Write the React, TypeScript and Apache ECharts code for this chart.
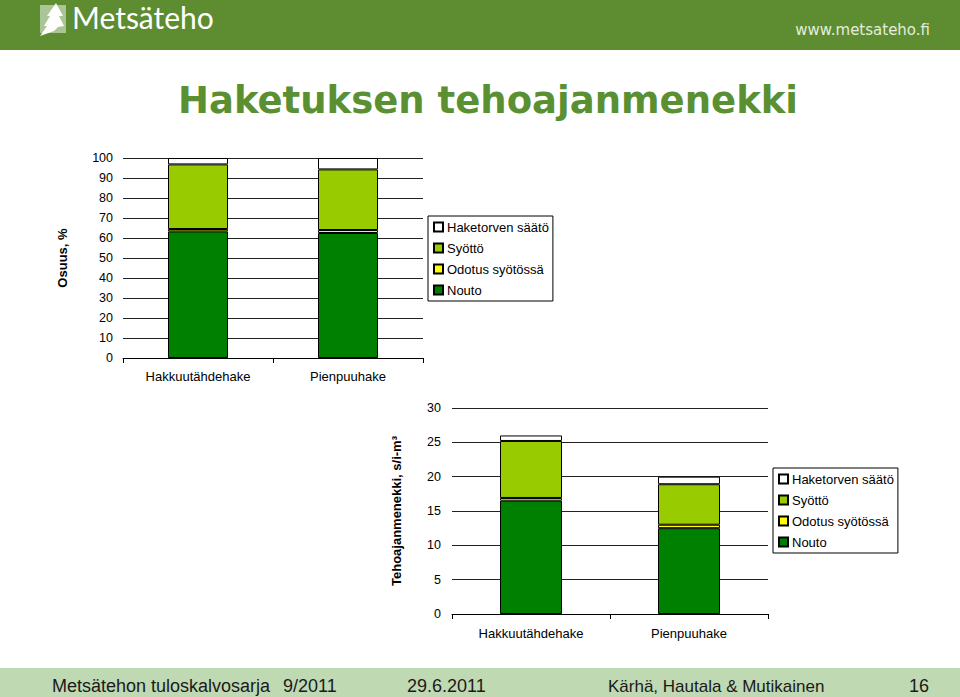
import React, { useEffect, useRef } from "react";
import * as echarts from "echarts";

const categories = ["Hakkuutähdehake", "Pienpuuhake"];
const seriesNames = ["Nouto", "Odotus syötössä", "Syöttö", "Haketorven säätö"];
const seriesColors = ["#008000", "#ffff00", "#99cc00", "#ffffff"];

// Osuus, %
const shareNouto = [63.3, 62.5];
const shareOdotus = [1.2, 1.5];
const shareSyotto = [32.3, 30.3];
const shareHaketorvi = [3.2, 5.7];

// Tehoajanmenekki, s/i-m3
const timeNouto = [16.5, 12.5];
const timeOdotus = [0.4, 0.5];
const timeSyotto = [8.3, 5.9];
const timeHaketorvi = [0.8, 1.1];

const topTicks = { min: 0, max: 100, interval: 10 };
const bottomTicks = { min: 0, max: 30, interval: 5 };

const legendOrder = ["Haketorven säätö", "Syöttö", "Odotus syötössä", "Nouto"];

const FONT = "Liberation Sans";

export default function App() {
  const ref = useRef<HTMLDivElement>(null);

  useEffect(() => {
    document.body.style.margin = "0";
    if (!ref.current) return;
    const chart = echarts.init(ref.current, null, { renderer: "svg" });

    const topData = [shareNouto, shareOdotus, shareSyotto, shareHaketorvi];
    const bottomData = [timeNouto, timeOdotus, timeSyotto, timeHaketorvi];

    const makeSeries = (data: number[][], idx: number, stack: string, bw: number) =>
      data.map((d, i) => ({
        type: "bar",
        name: seriesNames[i],
        stack,
        xAxisIndex: idx,
        yAxisIndex: idx,
        barWidth: bw,
        data: d,
        itemStyle: { color: seriesColors[i], borderColor: "#000", borderWidth: 1 },
        emphasis: { disabled: true },
      }));

    const xAxisBase = (gridIndex: number, margin: number) => ({
      type: "category",
      gridIndex,
      data: categories,
      axisLine: { show: true, lineStyle: { color: "#000", width: 1 } },
      axisTick: { show: true, length: 5, lineStyle: { color: "#000" } },
      axisLabel: { fontSize: 13, color: "#000", fontFamily: FONT, margin },
    });

    const yAxisBase = (gridIndex: number, ticks: any, name: string, nameGap: number, margin: number) => ({
      type: "value",
      gridIndex,
      min: ticks.min,
      max: ticks.max,
      interval: ticks.interval,
      name,
      nameLocation: "middle",
      nameGap,
      nameRotate: 90,
      nameTextStyle: { fontSize: 13, fontWeight: "bold", color: "#000", fontFamily: FONT },
      axisLine: { show: false },
      axisTick: { show: false },
      axisLabel: { fontSize: 12.5, color: "#000", fontFamily: FONT, margin },
      splitLine: { show: true, lineStyle: { color: "#222", width: 1.2 } },
    });

    const legendBase = (left: number, top: number) => ({
      data: legendOrder,
      orient: "vertical",
      left,
      top,
      icon: "rect",
      itemWidth: 9,
      itemHeight: 9,
      itemGap: 7,
      padding: [4, 4, 4, 5],
      borderColor: "#000",
      borderWidth: 1,
      backgroundColor: "#fff",
      selectedMode: false,
      textStyle: { fontSize: 13, color: "#000", fontFamily: FONT, lineHeight: 14, padding: [0, 0, 0, -1] },
    });

    const treePoints = [
      [56, 3], [63, 16], [59, 16], [64, 26], [58, 27], [54, 31], [40, 36],
      [47, 26], [44, 26], [50, 16], [47, 16],
    ];

    chart.setOption({
      animation: false,
      backgroundColor: "#ffffff",
      grid: [
        { left: 123, top: 158, width: 300, height: 200 },
        { left: 452, top: 408, width: 316, height: 206 },
      ],
      xAxis: [xAxisBase(0, 12), xAxisBase(1, 13)],
      yAxis: [
        yAxisBase(0, topTicks, "Osuus, %", 54, 10),
        yAxisBase(1, bottomTicks, "Tehoajanmenekki, s/i-m³", 49, 11),
      ],
      legend: [legendBase(428, 216), legendBase(773, 468)],
      series: [
        ...makeSeries(topData, 0, "top", 60),
        ...makeSeries(bottomData, 1, "bottom", 62),
      ],
      graphic: [
        { type: "rect", left: 0, top: 0, shape: { width: 960, height: 50 }, style: { fill: "#5e8c31" }, z: -1 },
        { type: "rect", shape: { x: 40, y: 5, width: 26, height: 28 }, style: { fill: "#b9cfa8", opacity: 0.85 } },
        { type: "polygon", shape: { points: treePoints }, style: { fill: "#ffffff" } },
        {
          type: "text",
          x: 72,
          y: 32,
          style: { text: "Metsäteho", fill: "#ffffff", font: "30px Lato", textVerticalAlign: "bottom" },
        },
        {
          type: "text",
          x: 930,
          y: 30,
          style: { text: "www.metsateho.fi", fill: "#e4ecdc", font: "15px 'DejaVu Sans'", textAlign: "right", textVerticalAlign: "middle" },
        },
        {
          type: "text",
          x: 488,
          y: 100,
          style: {
            text: "Haketuksen tehoajanmenekki",
            fill: "#5a9032",
            font: "bold 37px 'DejaVu Sans'",
            textAlign: "center",
            textVerticalAlign: "middle",
          },
        },
        { type: "rect", shape: { x: 0, y: 668, width: 960, height: 29 }, style: { fill: "#bfd9b3" } },
        { type: "text", x: 52, y: 686, style: { text: "Metsätehon tuloskalvosarja", fill: "#1a1a1a", font: "18px 'Liberation Sans'", textVerticalAlign: "middle" } },
        { type: "text", x: 283, y: 686, style: { text: "9/2011", fill: "#1a1a1a", font: "18px 'Liberation Sans'", textVerticalAlign: "middle" } },
        { type: "text", x: 407, y: 686, style: { text: "29.6.2011", fill: "#1a1a1a", font: "18px 'Liberation Sans'", textVerticalAlign: "middle" } },
        { type: "text", x: 608, y: 686, style: { text: "Kärhä, Hautala & Mutikainen", fill: "#1a1a1a", font: "17px 'Liberation Sans'", textVerticalAlign: "middle" } },
        { type: "text", x: 929, y: 686, style: { text: "16", fill: "#1a1a1a", font: "18px 'Liberation Sans'", textAlign: "right", textVerticalAlign: "middle" } },
      ],
    });

    return () => chart.dispose();
  }, []);

  return <div ref={ref} style={{ width: 960, height: 697 }} />;
}
